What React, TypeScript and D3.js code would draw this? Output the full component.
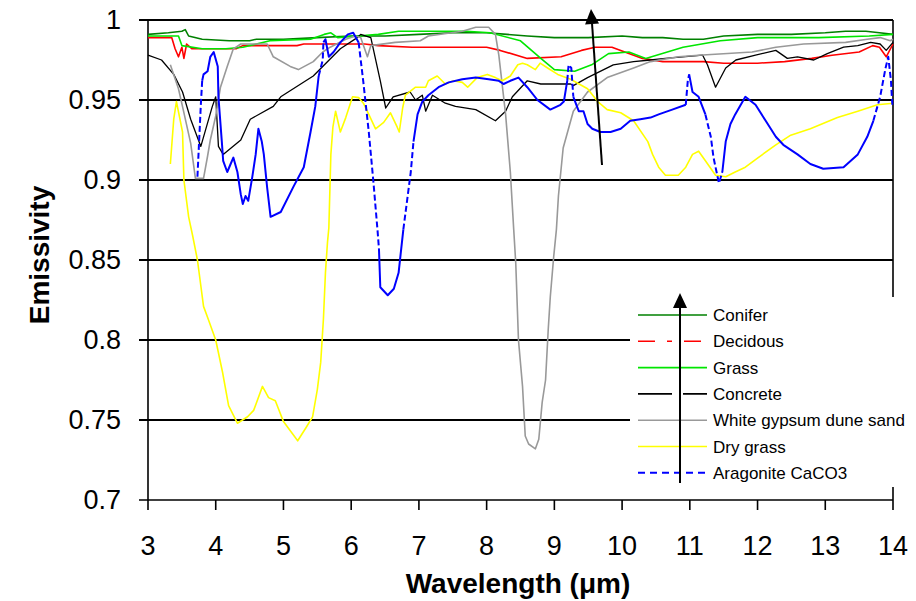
import React from "react";
import * as d3 from "d3";

type Pt = [number, number];

// Axis definitions
const xTickValues = [3, 4, 5, 6, 7, 8, 9, 10, 11, 12, 13, 14];
const yTickValues = [0.7, 0.75, 0.8, 0.85, 0.9, 0.95, 1];
const yTickLabels = ["0.7", "0.75", "0.8", "0.85", "0.9", "0.95", "1"];

// Emissivity spectra: [wavelength µm, emissivity]
const conifer: Pt[] = [
  [3.0, 0.991], [3.3, 0.992], [3.5, 0.993], [3.55, 0.994], [3.6, 0.99], [3.8, 0.988],
  [4.2, 0.987], [4.5, 0.987], [4.6, 0.988], [5.0, 0.988], [5.5, 0.989], [6.0, 0.99],
  [6.5, 0.99], [7.0, 0.991], [7.5, 0.992], [8.0, 0.992], [8.3, 0.991], [8.6, 0.99],
  [9.0, 0.989], [9.5, 0.989], [10.0, 0.99], [10.3, 0.989], [10.6, 0.989], [10.9, 0.988],
  [11.2, 0.988], [11.5, 0.99], [12.0, 0.991], [12.5, 0.991], [13.0, 0.992], [13.3, 0.993],
  [13.6, 0.993], [13.8, 0.992], [14.0, 0.991],
];

const decidous: Pt[] = [
  [3.0, 0.989], [3.35, 0.989], [3.4, 0.982], [3.45, 0.977], [3.5, 0.983], [3.53, 0.976],
  [3.57, 0.985], [3.65, 0.982], [4.3, 0.982], [4.4, 0.984], [5.2, 0.984], [5.3, 0.985],
  [6.2, 0.985], [6.4, 0.984], [6.9, 0.983], [7.4, 0.983], [8.0, 0.983], [8.2, 0.981],
  [8.6, 0.976], [9.1, 0.977], [9.4, 0.981], [9.6, 0.983], [9.85, 0.983], [10.1, 0.979],
  [10.3, 0.976], [10.6, 0.974], [11.2, 0.974], [11.5, 0.973], [12.0, 0.973], [12.4, 0.974],
  [12.8, 0.976], [13.1, 0.978], [13.5, 0.98], [13.7, 0.984], [13.8, 0.983], [13.9, 0.977],
  [14.0, 0.985],
];

const grass: Pt[] = [
  [3.0, 0.99], [3.45, 0.99], [3.5, 0.984], [3.8, 0.982], [4.15, 0.982], [4.4, 0.983],
  [4.8, 0.987], [5.4, 0.988], [5.6, 0.991], [5.7, 0.992], [5.8, 0.989], [6.1, 0.99],
  [6.4, 0.991], [6.7, 0.993], [7.7, 0.993], [8.05, 0.992], [8.5, 0.987], [8.8, 0.976],
  [9.0, 0.969], [9.3, 0.968], [9.55, 0.972], [9.8, 0.979], [10.1, 0.98], [10.35, 0.976],
  [10.9, 0.983], [11.45, 0.987], [12.0, 0.989], [12.9, 0.989], [13.65, 0.99], [14.0, 0.991],
];

const concrete: Pt[] = [
  [3.0, 0.978], [3.2, 0.975], [3.38, 0.966], [3.51, 0.955], [3.63, 0.938], [3.78, 0.921],
  [3.95, 0.946], [4.0, 0.952], [4.04, 0.921], [4.11, 0.916], [4.37, 0.925], [4.51, 0.938],
  [4.85, 0.946], [4.96, 0.952], [5.44, 0.965], [5.84, 0.982], [6.09, 0.989], [6.14, 0.991],
  [6.29, 0.989], [6.43, 0.962], [6.51, 0.945], [6.62, 0.952], [6.87, 0.955], [6.95, 0.95],
  [7.05, 0.953], [7.1, 0.943], [7.2, 0.953], [7.39, 0.948], [7.54, 0.946], [7.84, 0.944],
  [8.13, 0.937], [8.28, 0.943], [8.38, 0.952], [8.6, 0.962], [8.8, 0.96], [9.24, 0.96],
  [9.28, 0.959], [9.49, 0.964], [9.87, 0.972], [10.17, 0.974], [10.42, 0.975], [10.64, 0.976],
  [11.19, 0.978], [11.26, 0.972], [11.38, 0.958], [11.53, 0.97], [11.68, 0.975], [11.97, 0.978],
  [12.27, 0.981], [12.44, 0.976], [12.59, 0.977], [12.83, 0.975], [13.03, 0.979], [13.27, 0.983],
  [13.48, 0.984], [13.67, 0.986], [13.81, 0.985], [13.9, 0.981], [14.0, 0.986],
];

const gypsumSand: Pt[] = [
  [3.33, 0.972], [3.45, 0.957], [3.52, 0.944], [3.63, 0.923], [3.7, 0.901], [3.82, 0.901],
  [3.88, 0.915], [3.92, 0.925], [4.0, 0.94], [4.07, 0.958], [4.17, 0.971], [4.26, 0.982],
  [4.37, 0.985], [4.76, 0.985], [4.85, 0.977], [5.1, 0.971], [5.22, 0.969], [5.44, 0.974],
  [5.58, 0.98], [5.69, 0.983], [5.92, 0.988], [6.06, 0.99], [6.14, 0.989], [6.24, 0.977],
  [6.29, 0.984], [6.65, 0.986], [7.02, 0.987], [7.14, 0.99], [7.64, 0.993], [7.84, 0.9955],
  [8.03, 0.9955], [8.13, 0.991], [8.18, 0.978], [8.28, 0.941], [8.35, 0.905], [8.4, 0.869],
  [8.43, 0.848], [8.47, 0.8], [8.53, 0.771], [8.57, 0.74], [8.62, 0.735], [8.72, 0.732],
  [8.77, 0.738], [8.82, 0.761], [8.87, 0.775], [8.91, 0.807], [8.94, 0.827], [8.99, 0.852],
  [9.03, 0.869], [9.06, 0.89], [9.13, 0.92], [9.28, 0.943], [9.49, 0.955], [9.78, 0.964],
  [10.17, 0.97], [10.42, 0.974], [10.83, 0.977], [11.13, 0.978], [11.92, 0.98], [12.27, 0.983],
  [12.68, 0.985], [13.3, 0.986], [13.62, 0.988], [13.81, 0.989], [13.96, 0.987], [14.0, 0.988],
];

const dryGrass: Pt[] = [
  [3.33, 0.91], [3.38, 0.938], [3.42, 0.949], [3.51, 0.93], [3.53, 0.9], [3.6, 0.877],
  [3.66, 0.865], [3.73, 0.85], [3.82, 0.821], [3.89, 0.813], [4.0, 0.8], [4.1, 0.78],
  [4.19, 0.759], [4.32, 0.748], [4.47, 0.752], [4.56, 0.756], [4.69, 0.771], [4.78, 0.764],
  [4.88, 0.762], [5.0, 0.749], [5.21, 0.737], [5.33, 0.745], [5.43, 0.752], [5.5, 0.769],
  [5.55, 0.786], [5.59, 0.813], [5.62, 0.842], [5.65, 0.861], [5.67, 0.87], [5.7, 0.916],
  [5.73, 0.933], [5.77, 0.943], [5.84, 0.93], [5.92, 0.939], [6.02, 0.952], [6.11, 0.9515],
  [6.18, 0.948], [6.26, 0.941], [6.36, 0.932], [6.48, 0.936], [6.58, 0.942], [6.68, 0.933],
  [6.71, 0.93], [6.76, 0.945], [6.8, 0.953], [6.95, 0.958], [7.1, 0.958], [7.14, 0.962],
  [7.27, 0.965], [7.39, 0.96], [7.51, 0.962], [7.64, 0.961], [7.72, 0.958], [7.86, 0.964],
  [8.01, 0.966], [8.13, 0.964], [8.23, 0.962], [8.35, 0.965], [8.46, 0.972], [8.53, 0.973],
  [8.6, 0.972], [8.72, 0.969], [8.79, 0.973], [8.9, 0.97], [9.05, 0.966], [9.24, 0.963],
  [9.49, 0.957], [9.64, 0.949], [9.78, 0.944], [9.98, 0.942], [10.17, 0.937], [10.38, 0.924],
  [10.45, 0.916], [10.54, 0.908], [10.64, 0.903], [10.83, 0.903], [10.94, 0.908], [11.04, 0.916],
  [11.13, 0.918], [11.23, 0.912], [11.38, 0.903], [11.53, 0.902], [11.67, 0.905], [11.82, 0.908],
  [12.01, 0.914], [12.27, 0.922], [12.49, 0.928], [12.78, 0.932], [13.18, 0.939], [13.48, 0.943],
  [13.77, 0.947], [14.0, 0.948],
];

const aragonite: Pt[] = [
  [3.73, 0.902], [3.75, 0.92], [3.78, 0.947], [3.8, 0.962], [3.82, 0.966], [3.88, 0.968],
  [3.92, 0.977], [3.97, 0.98], [4.03, 0.971], [4.04, 0.952], [4.09, 0.924], [4.11, 0.912],
  [4.17, 0.905], [4.22, 0.91], [4.26, 0.914], [4.32, 0.905], [4.37, 0.891], [4.4, 0.885],
  [4.44, 0.89], [4.48, 0.887], [4.54, 0.902], [4.59, 0.916], [4.63, 0.932], [4.68, 0.924],
  [4.71, 0.916], [4.76, 0.895], [4.81, 0.877], [4.96, 0.88], [5.15, 0.896], [5.3, 0.908],
  [5.4, 0.93], [5.47, 0.946], [5.52, 0.965], [5.58, 0.975], [5.59, 0.986], [5.62, 0.988],
  [5.67, 0.977], [5.74, 0.98], [5.84, 0.986], [5.95, 0.991], [6.03, 0.992], [6.11, 0.986],
  [6.18, 0.961], [6.26, 0.93], [6.33, 0.898], [6.39, 0.868], [6.41, 0.857], [6.43, 0.833],
  [6.54, 0.828], [6.63, 0.832], [6.7, 0.842], [6.77, 0.869], [6.88, 0.905], [6.92, 0.924],
  [6.98, 0.941], [7.05, 0.949], [7.14, 0.953], [7.29, 0.958], [7.44, 0.961], [7.64, 0.963],
  [7.84, 0.964], [8.03, 0.963], [8.18, 0.962], [8.25, 0.96], [8.35, 0.962], [8.47, 0.964],
  [8.6, 0.958], [8.75, 0.95], [8.94, 0.944], [9.09, 0.947], [9.14, 0.949], [9.19, 0.962],
  [9.21, 0.972], [9.25, 0.97], [9.28, 0.952], [9.36, 0.943], [9.43, 0.943], [9.49, 0.935],
  [9.56, 0.932], [9.68, 0.93], [9.83, 0.93], [9.98, 0.932], [10.12, 0.937], [10.27, 0.938],
  [10.42, 0.939], [10.54, 0.941], [10.74, 0.944], [10.94, 0.947], [10.97, 0.962], [10.99, 0.966],
  [11.04, 0.955], [11.13, 0.952], [11.23, 0.941], [11.31, 0.927], [11.35, 0.914], [11.41, 0.902],
  [11.43, 0.898], [11.48, 0.905], [11.53, 0.924], [11.6, 0.935], [11.67, 0.941], [11.82, 0.952],
  [11.97, 0.947], [12.12, 0.937], [12.27, 0.927], [12.38, 0.922], [12.59, 0.916], [12.78, 0.91],
  [12.97, 0.907], [13.27, 0.908], [13.48, 0.916], [13.62, 0.927], [13.71, 0.937], [13.81, 0.952],
  [13.89, 0.97], [13.93, 0.977], [13.97, 0.962], [13.99, 0.947],
];

// Wavelength spans where the aragonite trace is drawn broken (dashed)
const aragoniteDashedSpans: [number, number][] = [
  [3.73, 3.8], [5.5, 5.6], [6.14, 6.41], [6.74, 6.9], [9.17, 9.3],
  [10.94, 11.0], [11.25, 11.5], [13.7, 14.0],
];

const seriesNames = [
  "Conifer",
  "Decidous",
  "Grass",
  "Concrete",
  "White gypsum dune sand",
  "Dry grass",
  "Aragonite CaCO3",
];
const seriesData = [conifer, decidous, grass, concrete, gypsumSand, dryGrass, aragonite];
const seriesColors = ["#008000", "#ff0000", "#00e600", "#000000", "#999999", "#ffff00", "#0000ff"];
const seriesWidths = [1.6, 1.6, 1.6, 1.3, 1.6, 1.6, 2];
const legendDash = ["", "17,12,5,12", "", "34,11", "", "", "7,5"];

const WIDTH = 916;
const HEIGHT = 601;
const LEFT = 148;
const RIGHT = 893;
const TOP = 20;
const BOTTOM = 500;
const FONT = "'Liberation Sans', Arial, Helvetica, sans-serif";

const xScale = d3.scaleLinear().domain([3, 14]).range([LEFT, RIGHT]);
const yScale = d3.scaleLinear().domain([0.7, 1]).range([BOTTOM, TOP]);
const lineGen = d3
  .line<Pt>()
  .x((d) => xScale(d[0]))
  .y((d) => yScale(d[1]));

// Split a series into consecutive runs of solid and dashed segments
function splitRuns(pts: Pt[], spans: [number, number][]) {
  const runs: { dashed: boolean; pts: Pt[] }[] = [];
  for (let i = 1; i < pts.length; i++) {
    const mid = (pts[i][0] + pts[i - 1][0]) / 2;
    const dashed = spans.some(([a, b]) => mid >= a && mid <= b);
    const last = runs[runs.length - 1];
    if (last && last.dashed === dashed) last.pts.push(pts[i]);
    else runs.push({ dashed, pts: [pts[i - 1], pts[i]] });
  }
  return runs;
}

function Arrow({ x1, y1, x2, y2 }: { x1: number; y1: number; x2: number; y2: number }) {
  const ang = Math.atan2(y2 - y1, x2 - x1);
  const len = 15;
  const half = 7;
  const bx = x2 - len * Math.cos(ang);
  const by = y2 - len * Math.sin(ang);
  const px = -Math.sin(ang);
  const py = Math.cos(ang);
  const head = `M${x2},${y2} L${bx + half * px},${by + half * py} L${bx - half * px},${by - half * py} Z`;
  return (
    <g>
      <line x1={x1} y1={y1} x2={bx} y2={by} stroke="#000" strokeWidth={2} />
      <path d={head} fill="#000" />
    </g>
  );
}

export default function App() {
  const legendX = 630;
  const legendTop = 297;
  const legendBottom = 487;
  const rowY0 = 315;
  const rowGap = 26.3;

  return (
    <svg
      width={WIDTH}
      height={HEIGHT}
      style={{ position: "absolute", left: 0, top: 0, background: "#fff" }}
      fontFamily={FONT}
    >
      <rect x={0} y={0} width={WIDTH} height={HEIGHT} fill="#fff" />

      {/* horizontal gridlines */}
      {yTickValues.map((v) => (
        <line
          key={"g" + v}
          x1={LEFT - 9}
          x2={RIGHT}
          y1={yScale(v)}
          y2={yScale(v)}
          stroke="#000"
          strokeWidth={v === 0.7 ? 1.6 : 2}
        />
      ))}
      {/* plot frame */}
      <line x1={LEFT} x2={LEFT} y1={TOP} y2={BOTTOM} stroke="#000" strokeWidth={1.6} />
      <line x1={RIGHT} x2={RIGHT} y1={TOP} y2={BOTTOM} stroke="#000" strokeWidth={1.6} />

      {/* x ticks */}
      {xTickValues.map((v) => (
        <g key={"x" + v}>
          <line x1={xScale(v)} x2={xScale(v)} y1={BOTTOM} y2={BOTTOM + 10} stroke="#000" strokeWidth={1.6} />
          <text x={xScale(v)} y={555} fontSize={27} textAnchor="middle" fill="#000">
            {v}
          </text>
        </g>
      ))}

      {/* y tick labels */}
      {yTickValues.map((v, i) => (
        <text key={"y" + v} x={121} y={yScale(v)} dy="0.35em" fontSize={27} textAnchor="end" fill="#000">
          {yTickLabels[i]}
        </text>
      ))}

      {/* series */}
      {seriesData.map((data, i) =>
        i === 6 ? (
          <g key={seriesNames[i]}>
            {splitRuns(data, aragoniteDashedSpans).map((r, j) => (
              <path
                key={j}
                d={lineGen(r.pts) || ""}
                fill="none"
                stroke={seriesColors[i]}
                strokeWidth={seriesWidths[i]}
                strokeDasharray={r.dashed ? "6,3" : undefined}
                strokeLinejoin="round"
              />
            ))}
          </g>
        ) : (
          <path
            key={seriesNames[i]}
            d={lineGen(data) || ""}
            fill="none"
            stroke={seriesColors[i]}
            strokeWidth={seriesWidths[i]}
            strokeLinejoin="round"
          />
        )
      )}

      {/* legend */}
      <rect x={legendX} y={legendTop} width={RIGHT + 4 - legendX} height={legendBottom - legendTop} fill="#fff" />
      {seriesNames.map((name, i) => {
        const y = rowY0 + i * rowGap;
        return (
          <g key={"l" + name}>
            <line
              x1={638}
              x2={707}
              y1={y}
              y2={y}
              stroke={seriesColors[i]}
              strokeWidth={i === 6 ? 2 : 1.6}
              strokeDasharray={legendDash[i] || undefined}
            />
            <text x={713} y={y} dy="0.36em" fontSize={17} fill="#000">
              {name}
            </text>
          </g>
        );
      })}

      {/* annotation arrows */}
      <Arrow x1={680} y1={483} x2={680} y2={293} />
      <Arrow x1={602} y1={165} x2={591} y2={9} />

      {/* axis titles */}
      <text x={518} y={593} fontSize={28} fontWeight="bold" textAnchor="middle" fill="#000">
        Wavelength (μm)
      </text>
      <text
        transform="translate(49,255) rotate(-90)"
        fontSize={28}
        fontWeight="bold"
        textAnchor="middle"
        fill="#000"
      >
        Emissivity
      </text>
    </svg>
  );
}
